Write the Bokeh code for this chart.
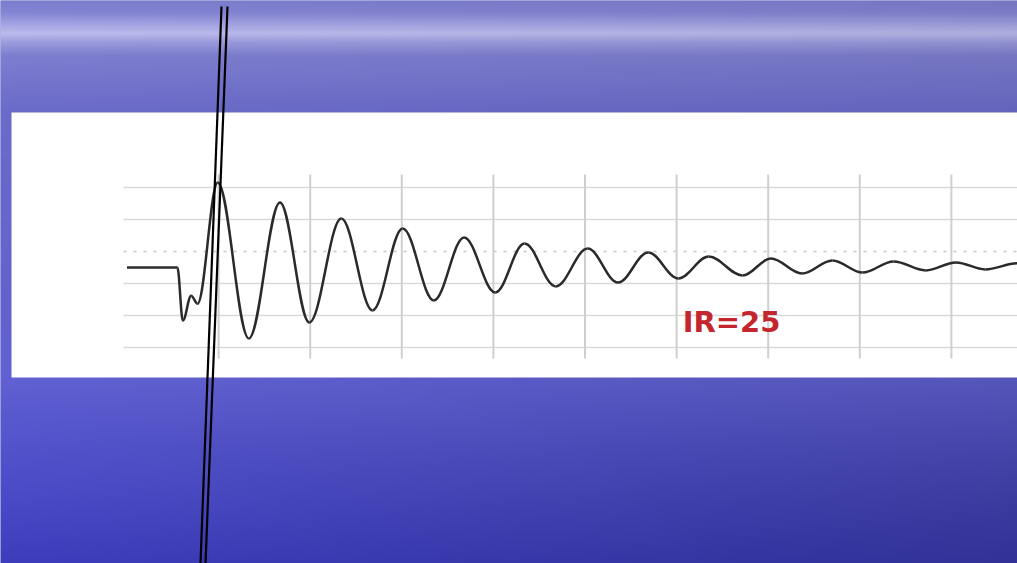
import numpy as np
from bokeh.plotting import figure
from bokeh.models import Range1d, ColumnDataSource
from bokeh.embed import file_html
from bokeh.resources import INLINE
from bokeh.core.properties import value

# ---------------- data (time in grid divisions, amplitude in grid units) -------------
wave_t = [0.0, 0.55, 0.61, 0.70, 0.77, 0.99, 1.33, 1.67, 1.99, 2.34, 2.68, 3.01,
          3.35, 3.68, 4.02, 4.34, 4.68, 5.03, 5.36, 5.69, 6.02, 6.35, 6.72, 7.03,
          7.37, 7.70, 8.03, 8.37, 8.72, 9.05, 9.37, 9.72]
wave_a = [0.0, 0.0, -1.66, -0.88, -1.13, 2.66, -2.22, 2.03, -1.72, 1.53, -1.34, 1.22,
          -1.03, 0.94, -0.78, 0.75, -0.59, 0.59, -0.47, 0.47, -0.34, 0.34, -0.25, 0.28,
          -0.19, 0.22, -0.16, 0.19, -0.09, 0.16, -0.06, 0.13]
grid_t = [1, 2, 3, 4, 5, 6, 7, 8, 9]
grid_a = [2.5, 1.5, 0.5, -0.5, -1.5, -2.5]
dashed_level = 0.5
label_text = "IR=25"
label_t = 6.6
label_a = -1.69

# ---------------- layout calibration (reference pixels -> chart units) ---------------
PX0, PXS = 126.5, 91.6   # x pixel of t=0, pixels per division
PY0, PYS = 267.0, 32.0   # y pixel of a=0, pixels per unit


def tx(px):
    return (np.asarray(px, dtype=float) - PX0) / PXS


def ay(py):
    return (PY0 - np.asarray(py, dtype=float)) / PYS


W, H = 1017, 563
p = figure(width=W, height=H, output_backend="svg", toolbar_location=None,
           x_range=Range1d(float(tx(0)), float(tx(W))),
           y_range=Range1d(float(ay(H)), float(ay(0))),
           x_axis_type=None, y_axis_type=None,
           min_border=0, min_border_left=0, min_border_right=0,
           min_border_top=0, min_border_bottom=0)
p.grid.visible = False
p.outline_line_color = None
p.background_fill_color = "#6a6ac4"
p.border_fill_color = "#6a6ac4"

# ---------------- background (sea photo approximation) -------------------------------
IH, IW = 563, 128
ys = np.arange(IH)[::-1] + 0.5  # image row 0 is at the bottom
kp_y = [0, 12, 24, 33, 42, 55, 110, 377, 450, 563]
kp_c = np.array([[122, 122, 202], [128, 128, 206], [160, 160, 222], [182, 182, 230],
                 [150, 150, 215], [122, 122, 202], [104, 104, 196], [92, 92, 200],
                 [76, 76, 188], [56, 56, 172]], dtype=float)
col = np.stack([np.interp(ys, kp_y, kp_c[:, i]) for i in range(3)], axis=-1)
xs = np.linspace(0, 1, IW)
lower = np.clip((ys - 300) / 200.0, 0, 1)[:, None]
fac = 1.0 + (0.10 - 0.22 * xs[None, :]) * (0.3 + 0.7 * lower)
rgb = np.clip(col[:, None, :] * fac[:, :, None], 0, 255)
img = np.empty((IH, IW, 4), dtype=np.uint8)
img[..., :3] = rgb.astype(np.uint8)
img[..., 3] = 255
img32 = img.view(dtype=np.uint32).reshape((IH, IW))
p.image_rgba(image=[img32], x=float(tx(0)), y=float(ay(563)),
             dw=1017 / PXS, dh=563 / PYS)

# ---------------- white panel ----------------------------------------------------------
p.quad(left=float(tx(11)), right=float(tx(1030)), top=float(ay(112)),
       bottom=float(ay(377)), fill_color="white", line_color=None)

# ---------------- grid ----------------------------------------------------------------
g_left, g_right = float(tx(123)), float(tx(1030))
solid = [a for a in grid_a if a != dashed_level]
p.segment(x0=[g_left] * len(solid), x1=[g_right] * len(solid), y0=solid, y1=solid,
          line_color="#dadada", line_width=1.5)
p.segment(x0=[g_left], x1=[g_right], y0=[dashed_level], y1=[dashed_level],
          line_color="#c8c8c8", line_width=1.5, line_dash="3 7")
v_top, v_bot = float(ay(174)), float(ay(358))
p.segment(x0=grid_t, x1=grid_t, y0=[v_top] * len(grid_t), y1=[v_bot] * len(grid_t),
          line_color="#cfcfcf", line_width=2)

# ---------------- waveform as smooth bezier segments between extremes ------------------
t = np.array(wave_t)
a = np.array(wave_a)
K = 0.36
dx = t[1:] - t[:-1]
src = ColumnDataSource(dict(x0=t[:-1], y0=a[:-1], x1=t[1:], y1=a[1:],
                            cx0=t[:-1] + K * dx, cy0=a[:-1],
                            cx1=t[1:] - K * dx, cy1=a[1:]))
p.bezier(x0="x0", y0="y0", x1="x1", y1="y1", cx0="cx0", cy0="cy0",
         cx1="cx1", cy1="cy1", source=src, line_color="#2a2a2a", line_width=2.5)

# ---------------- label ----------------------------------------------------------------
p.text(x=[label_t], y=[label_a], text=[label_text], text_color="#c4262e",
       text_font=value("DejaVu Sans"), text_font_style="bold",
       text_font_size="29px", text_align="center", text_baseline="middle")

# ---------------- the two slanted black strokes ---------------------------------------
p.segment(x0=[float(tx(221)), float(tx(227))], y0=[float(ay(6))] * 2,
          x1=[float(tx(200)), float(tx(205))], y1=[float(ay(563))] * 2,
          line_color="black", line_width=2.2)

open("out.html", "w").write(file_html(p, INLINE))
